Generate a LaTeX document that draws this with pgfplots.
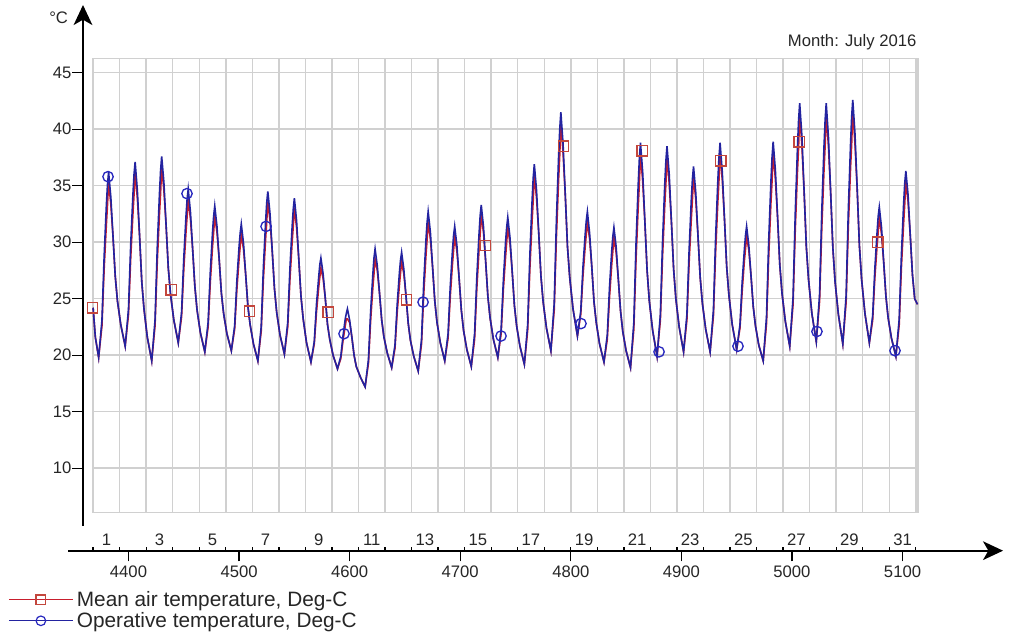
\documentclass[border=0pt]{standalone}
\usepackage{fontspec}
\setmainfont{Liberation Sans}
\usepackage{pgfplots}
\pgfplotsset{compat=1.18}
\usepackage{pgfplotstable}
\usetikzlibrary{arrows.meta}

\definecolor{airred}{RGB}{200,30,45}
\definecolor{opblue}{RGB}{35,35,160}
\definecolor{sqred}{RGB}{195,70,60}
\definecolor{circblue}{RGB}{40,40,190}
\definecolor{gridgray}{RGB}{208,208,208}

% hour of year, operative temperature, mean air temperature (deg C)
\pgfplotstableread{
h op air
4368 24.2 24.2
4370 21.6 21.6
4373 19.8 19.8
4376 23.1 22.6
4378 28.8 27.7
4380 33.3 31.6
4381 35.1 33.3
4382 36.2 35.3
4384 34.0 33.4
4386 30.5 30.5
4388 27.0 27.0
4390 24.8 24.8
4393 22.7 22.7
4397 20.8 20.8
4400 24.1 23.6
4402 29.8 28.6
4404 34.2 32.5
4405 36.0 34.2
4406 37.1 36.2
4408 34.6 33.9
4410 30.6 30.6
4412 26.5 26.5
4414 24.1 24.1
4417 21.6 21.6
4421 19.5 19.5
4424 23.1 22.6
4426 29.5 28.2
4428 34.3 32.5
4429 36.3 34.3
4430 37.6 36.7
4432 35.3 34.6
4434 31.5 31.5
4436 27.7 27.7
4438 25.4 25.4
4441 23.1 23.1
4445 21.1 21.1
4448 23.8 23.4
4450 28.6 27.6
4452 32.3 30.9
4453 33.8 32.3
4454 34.7 33.8
4456 32.7 32.1
4458 29.4 29.4
4460 26.1 26.1
4462 24.0 24.0
4465 22.0 22.0
4469 20.3 20.3
4472 22.9 22.5
4474 27.4 26.5
4476 30.9 29.6
4477 32.3 30.9
4478 33.2 32.3
4480 31.4 30.9
4482 28.5 28.5
4484 25.5 25.5
4486 23.7 23.7
4489 21.9 21.9
4493 20.4 20.4
4496 22.6 22.3
4498 26.6 25.8
4500 29.6 28.5
4501 30.8 29.6
4502 31.6 30.7
4504 29.9 29.4
4506 27.1 27.1
4508 24.3 24.3
4510 22.7 22.7
4513 21.0 21.0
4517 19.5 19.5
4520 22.5 22.1
4522 27.8 26.7
4524 31.8 30.3
4525 33.5 31.8
4526 34.5 33.6
4528 32.5 31.9
4530 29.2 29.2
4532 25.9 25.9
4534 23.8 23.8
4537 21.8 21.8
4541 20.1 20.1
4544 22.9 22.5
4546 27.7 26.7
4548 31.4 30.0
4549 32.9 31.4
4550 33.9 33.0
4552 31.9 31.3
4554 28.5 28.5
4556 25.2 25.2
4558 23.2 23.2
4561 21.1 21.1
4565 19.4 19.4
4568 21.2 21.0
4570 24.5 23.8
4572 26.9 26.0
4573 28.0 26.9
4574 28.6 27.7
4576 27.2 26.8
4578 25.0 25.0
4580 22.7 22.7
4582 21.4 21.4
4585 20.0 20.0
4589 18.8 18.8
4592 19.9 19.7
4594 21.7 21.3
4596 23.2 22.6
4597 23.7 23.2
4598 24.1 23.2
4600 23.1 22.9
4602 21.6 21.6
4604 20.0 20.0
4606 19.0 19.0
4610 18.0 18.0
4614 17.2 17.2
4617 19.6 19.3
4619 23.9 23.1
4621 27.2 26.0
4622 28.6 27.2
4623 29.4 28.5
4625 27.9 27.5
4627 25.5 25.5
4629 23.1 23.1
4631 21.6 21.6
4634 20.2 20.2
4638 18.9 18.9
4641 20.9 20.6
4643 24.5 23.8
4645 27.3 26.2
4646 28.4 27.3
4647 29.1 28.2
4649 27.6 27.2
4651 25.2 25.2
4653 22.8 22.8
4655 21.3 21.3
4658 19.9 19.9
4662 18.6 18.6
4665 21.4 21.0
4667 26.4 25.4
4669 30.2 28.8
4670 31.7 30.2
4671 32.7 31.8
4673 30.9 30.3
4675 27.8 27.8
4677 24.8 24.8
4679 22.9 22.9
4682 21.1 21.1
4686 19.5 19.5
4689 21.9 21.5
4691 26.1 25.2
4693 29.3 28.1
4694 30.6 29.3
4695 31.4 30.5
4697 29.7 29.2
4699 26.8 26.8
4701 24.0 24.0
4703 22.2 22.2
4706 20.5 20.5
4710 19.0 19.0
4713 21.9 21.4
4715 26.9 25.9
4717 30.7 29.3
4718 32.3 30.7
4719 33.3 32.4
4721 31.4 30.9
4723 28.3 28.3
4725 25.2 25.2
4727 23.3 23.3
4730 21.4 21.4
4734 19.8 19.8
4737 22.3 21.9
4739 26.6 25.8
4741 30.0 28.7
4742 31.3 30.0
4743 32.2 31.3
4745 30.4 29.9
4747 27.4 27.4
4749 24.4 24.4
4751 22.6 22.6
4754 20.8 20.8
4758 19.2 19.2
4761 22.7 22.2
4763 28.9 27.7
4765 33.7 31.9
4766 35.7 33.7
4767 36.9 36.0
4769 34.6 33.9
4771 30.8 30.8
4773 27.0 27.0
4775 24.7 24.7
4778 22.4 22.4
4782 20.4 20.4
4785 24.6 24.0
4787 32.0 30.5
4789 37.7 35.6
4790 40.0 37.7
4791 41.5 40.6
4793 38.7 37.9
4795 34.2 34.2
4797 29.6 29.6
4799 26.9 26.9
4802 24.1 24.1
4806 21.7 21.7
4809 23.9 23.6
4811 27.8 27.0
4813 30.7 29.6
4814 31.9 30.7
4815 32.7 31.8
4817 30.8 30.3
4819 27.8 27.8
4821 24.7 24.7
4823 22.9 22.9
4826 21.0 21.0
4830 19.4 19.4
4833 21.8 21.4
4835 26.0 25.1
4837 29.2 28.0
4838 30.5 29.2
4839 31.3 30.4
4841 29.6 29.1
4843 26.7 26.7
4845 23.9 23.9
4847 22.1 22.1
4850 20.4 20.4
4854 18.9 18.9
4857 22.9 22.3
4859 29.9 28.5
4861 35.2 33.2
4862 37.4 35.2
4863 38.8 37.9
4865 36.2 35.4
4867 31.8 31.8
4869 27.5 27.5
4871 24.8 24.8
4874 22.2 22.2
4878 19.9 19.9
4881 23.6 23.1
4883 30.1 28.8
4885 35.2 33.3
4886 37.2 35.2
4887 38.5 37.6
4889 36.0 35.2
4891 31.8 31.8
4893 27.6 27.6
4895 25.0 25.0
4898 22.5 22.5
4902 20.3 20.3
4905 23.6 23.1
4907 29.3 28.2
4909 33.8 32.1
4910 35.6 33.8
4911 36.7 35.8
4913 34.4 33.8
4915 30.6 30.6
4917 26.9 26.9
4919 24.6 24.6
4922 22.3 22.3
4926 20.3 20.3
4929 24.0 23.5
4931 30.5 29.2
4933 35.5 33.6
4934 37.5 35.5
4935 38.8 37.9
4937 36.2 35.5
4939 32.0 32.0
4941 27.8 27.8
4943 25.3 25.3
4946 22.7 22.7
4950 20.5 20.5
4953 22.7 22.4
4955 26.5 25.7
4957 29.4 28.4
4958 30.6 29.4
4959 31.4 30.5
4961 29.7 29.3
4963 27.0 27.0
4965 24.3 24.3
4967 22.6 22.6
4970 20.9 20.9
4974 19.5 19.5
4977 23.4 22.8
4979 30.2 28.8
4981 35.4 33.5
4982 37.5 35.4
4983 38.9 38.0
4985 36.4 35.6
4987 32.2 32.2
4989 28.0 28.0
4991 25.5 25.5
4994 23.0 23.0
4998 20.8 20.8
5001 25.1 24.5
5003 32.6 31.1
5005 38.4 36.3
5006 40.8 38.4
5007 42.3 41.4
5009 39.4 38.5
5011 34.5 34.5
5013 29.6 29.6
5015 26.7 26.7
5018 23.7 23.7
5022 21.2 21.2
5025 25.4 24.8
5027 32.8 31.3
5029 38.5 36.4
5030 40.8 38.5
5031 42.3 41.4
5033 39.3 38.5
5035 34.4 34.4
5037 29.5 29.5
5039 26.5 26.5
5042 23.6 23.6
5046 21.0 21.0
5049 25.3 24.7
5051 32.9 31.4
5053 38.7 36.6
5054 41.1 38.7
5055 42.6 41.7
5057 39.6 38.7
5059 34.7 34.7
5061 29.7 29.7
5063 26.7 26.7
5066 23.7 23.7
5070 21.1 21.1
5073 23.5 23.1
5075 27.7 26.9
5077 30.9 29.7
5078 32.3 30.9
5079 33.1 32.2
5081 31.3 30.7
5083 28.2 28.2
5085 25.2 25.2
5087 23.3 23.3
5090 21.5 21.5
5094 19.9 19.9
5097 23.2 22.7
5099 28.9 27.8
5101 33.4 31.7
5102 35.2 33.4
5103 36.3 35.4
5105 34.2 33.6
5107 30.6 30.6
5109 27.1 27.1
5111 25.0 25.0
5113.5 24.5 24.5
}\julytemps

\begin{document}
\begin{tikzpicture}
\path[use as bounding box] (0pt,0pt) rectangle (756.75pt,-477.75pt);

% outer axes with arrows, ticks and labels
\begin{axis}[
  at={(62.25pt,-413pt)}, anchor=south west,
  x=0.8293pt, y=8.475pt,
  xmin=4358.85, xmax=5190.9, ymin=2.70, ymax=50.99,
  axis x line*=bottom, axis y line*=left,
  axis line style={line width=1.4pt, black},
  x axis line style={-{Stealth[length=15pt,width=14pt,inset=4pt]}, shorten <=-11.25pt},
  y axis line style={-{Stealth[length=15pt,width=14pt,inset=4pt]}, shorten <=18.75pt},
  xtick={4400,4500,...,5100},
  minor xtick={4368,4392,...,5112},
  ytick={10,15,...,45},
  tick align=outside,
  major tick length=8pt, minor tick length=3pt,
  tick style={black, line width=1pt},
  minor tick style={yshift=3pt},
  scaled x ticks=false,
  /pgf/number format/1000 sep={},
  /pgf/number format/assume math mode=true,
  tick label style={font=\fontsize{12.5}{14}\selectfont, text=black!85},
  yticklabel style={inner sep=0.5pt},
  extra x ticks={4380,4428,4476,4524,4572,4620,4668,4716,4764,4812,4860,4908,4956,5004,5052,5100},
  extra x tick labels={1,3,5,7,9,11,13,15,17,19,21,23,25,27,29,31},
  extra x tick style={major tick length=0pt, tick label style={anchor=south}},
]
\end{axis}

% grid box with the data
\begin{axis}[
  at={(69.225pt,-384.2pt)}, anchor=south west,
  x=0.8293pt, y=8.475pt,
  xmin=4367.26, xmax=5114.0, ymin=6.10, ymax=46.27,
  axis line style={draw=gridgray, line width=1.1pt},
  xtick={4368,4392,...,5112}, ytick={10,15,...,45},
  xticklabels={}, yticklabels={},
  major tick length=0pt,
  grid=major, grid style={draw=gridgray, line width=1.1pt},
  clip=false,
  legend cell align=left,
  legend style={at={(-0.107,-0.163)}, anchor=north west, draw=none, fill=none,
    font=\fontsize{15.6}{17}\selectfont, text=black!85, row sep=0pt,
    nodes={inner sep=1.5pt},
    /tikz/every odd column/.append style={column sep=1pt}},
  legend image code/.code={
    \draw[mark repeat=2, mark phase=2, #1] plot coordinates {(0pt,0pt) (24pt,0pt) (48pt,0pt)};
  },
]
\addplot[airred, line width=1.2pt, forget plot] table[x=h, y=air] {\julytemps};
\addplot[opblue, line width=1.2pt, forget plot] table[x=h, y=op] {\julytemps};
\addplot[only marks, mark=square, mark size=3.9pt, mark options={sqred, line width=1pt}, forget plot]
  coordinates {(4367.5,24.2)(4438.5,25.8)(4509.5,23.9)(4580.5,23.8)(4651.5,24.9)(4722.5,29.7)
               (4793.5,38.5)(4864.5,38.1)(4935.5,37.2)(5006.5,38.9)(5077.5,30.0)};
\addplot[only marks, mark=o, mark size=3.9pt, mark options={circblue, line width=1pt}, forget plot]
  coordinates {(4381.5,35.8)(4452.9,34.3)(4524.4,31.4)(4594.9,21.9)(4666.4,24.7)(4736.9,21.7)
               (4809.2,22.8)(4879.8,20.3)(4951.2,20.8)(5022.6,22.1)(5093.2,20.4)};
\addlegendimage{airred, line width=1pt, mark=square, mark size=3.6pt, mark options={sqred, solid, line width=0.9pt}}
\addlegendentry{Mean air temperature, Deg-C}
\addlegendimage{opblue, line width=1pt, mark=o, mark size=3.6pt, mark options={circblue, solid, line width=0.9pt}}
\addlegendentry{Operative temperature, Deg-C}
\end{axis}

\node[anchor=base east, font=\fontsize{12.5}{14}\selectfont, text=black!85, inner sep=0pt] at (51.2pt,-17.5pt) {°C};
\node[anchor=base east, font=\fontsize{12.5}{14}\selectfont, text=black!85, inner sep=0pt] at (687.5pt,-34.5pt) {Month: July 2016};
\end{tikzpicture}
\end{document}
